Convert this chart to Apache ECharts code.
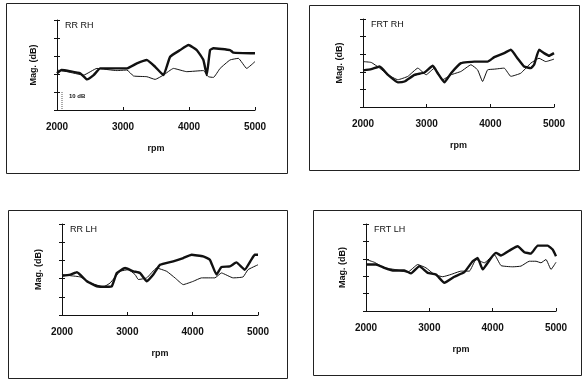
<!DOCTYPE html>
<html>
<head>
<meta charset="utf-8">
<script src="https://cdn.jsdelivr.net/npm/echarts@6/dist/echarts.min.js"></script>
<style>
  html, body { margin: 0; padding: 0; background: #fff; }
  #chart { width: 583px; height: 381px; }
</style>
</head>
<body>
<div id="chart"></div>
<script>
// [rpm, Mag dB], y axis 0..50 dB (10 dB per tick)
var rrRhThick = [[2000,20.4],[2067,22.2],[2353,20.4],[2454,17],[2555,19.4],[2655,23.1],[2857,23.1],[3059,23.1],[3210,25.9],[3361,27.8],[3487,24],[3613,19.4],[3714,29.6],[3866,33.3],[3992,36.1],[4118,33.3],[4218,27.8],[4269,19.4],[4319,33.3],[4370,34.3],[4622,33.3],[4672,31.9],[5000,31.5]]
var rrRhThin = [[2000,22.2],[2151,21.3],[2403,19.4],[2605,23.1],[2908,21.9],[3059,22.2],[3160,18.9],[3361,18.5],[3487,17],[3613,19.4],[3765,23.1],[3966,21.3],[4218,21.9],[4294,18.5],[4370,18.1],[4471,23.1],[4622,27.8],[4748,28.7],[4874,23.1],[5000,26.9]]

var frtRhThick = [[2000,20.8],[2130,21.5],[2261,23],[2391,18.3],[2548,14],[2652,14.5],[2809,18.3],[2965,19.6],[3096,23.4],[3174,19.2],[3278,14],[3383,19.2],[3539,24.9],[3748,25.8],[3957,25.8],[4061,28.3],[4217,30.6],[4322,32.5],[4426,27.7],[4530,23],[4635,22.1],[4687,24],[4765,32.5],[4843,30.6],[4922,29.1],[5000,30.6]]
var frtRhThin = [[2000,25.8],[2130,25.3],[2261,22.1],[2391,18.3],[2548,15.5],[2704,17.4],[2861,22.1],[2991,18.3],[3122,22.1],[3252,15.5],[3383,18.3],[3539,20.2],[3696,24],[3800,21.1],[3878,14.5],[3957,21.1],[4061,21.5],[4217,22.1],[4322,17.4],[4478,19.2],[4635,24.9],[4765,27.7],[4870,25.8],[5000,27.2]]

var rrLhThick = [[2000,21.6],[2127,22.2],[2229,23.5],[2381,18.5],[2534,15.8],[2686,15.5],[2763,15.8],[2839,23.1],[2966,25.8],[3093,24],[3195,23.1],[3297,18.5],[3398,22.2],[3500,27.6],[3703,29.5],[3856,31.3],[3983,33.1],[4161,32.2],[4263,30.4],[4364,22.2],[4441,26.4],[4568,26.7],[4669,28.9],[4797,24.9],[4898,30.4],[4949,33.1],[5000,33.1]]
var rrLhThin = [[2000,22.2],[2127,21.6],[2280,20.9],[2432,17.6],[2636,15.5],[2737,17.6],[2890,24],[3017,24.9],[3119,22.2],[3169,19.5],[3297,20.4],[3449,25.8],[3602,24],[3729,20.4],[3856,16.7],[4008,18.5],[4136,20.4],[4339,20.4],[4441,23.1],[4619,20.4],[4771,20.9],[4847,24.9],[5000,27.6]]

var frtLhThick = [[2000,26.7],[2158,26.7],[2289,24.8],[2421,23.3],[2605,23.3],[2711,21.6],[2842,25.8],[2974,21.9],[3105,21],[3237,16.2],[3395,19.7],[3553,22.3],[3684,28.6],[3763,30.5],[3842,23.9],[3974,30.5],[4053,33.4],[4132,31.9],[4289,35.3],[4395,37.2],[4500,33.8],[4605,33],[4711,37.6],[4868,37.6],[4947,35.3],[5000,31.5]]
var frtLhThin = [[2000,29.6],[2132,28],[2289,24.8],[2447,23.9],[2658,22.3],[2816,26.7],[2947,24.8],[3079,21],[3211,19.7],[3342,21],[3500,22.9],[3632,22.9],[3737,29.6],[3868,27.7],[4026,32.4],[4132,26.1],[4316,25.4],[4447,25.8],[4579,28.6],[4684,28.6],[4763,27.7],[4842,29.6],[4921,23.9],[5000,28]]

var panelTitles = ['RR RH', 'FRT RH', 'RR LH', 'FRT LH']

var thickData = [rrRhThick, frtRhThick, rrLhThick, frtLhThick]
var thinData = [rrRhThin, frtRhThin, rrLhThin, frtLhThin]

// layout of the four panels
var grids = [
  { left: 57, top: 20, width: 198, height: 90 },
  { left: 363, top: 19, width: 191, height: 88 },
  { left: 62, top: 224, width: 196, height: 91 },
  { left: 366, top: 224, width: 190, height: 87 }
]
var boxes = [
  [6, 3, 281, 170],
  [309, 5, 270, 165],
  [8, 210, 279, 168],
  [313, 210, 268, 165]
]

var font = 'Liberation Sans, Arial, sans-serif'
var ink = '#111'

var chart = echarts.init(document.getElementById('chart'), null, { renderer: 'canvas' })

var xAxes = []
var yAxes = []
var series = []
var graphics = []

grids.forEach(function (g, i) {
  xAxes.push({
    type: 'value', gridIndex: i, min: 2000, max: 5000, interval: 1000,
    name: 'rpm', nameLocation: 'middle', nameGap: 34,
    nameTextStyle: { color: ink, fontSize: 9, fontWeight: 'bold', fontFamily: font },
    axisLine: { lineStyle: { color: ink, width: 1.2 } },
    axisTick: { inside: true, length: 3, lineStyle: { color: ink } },
    axisLabel: {
      margin: 12, color: ink, fontSize: 10, fontWeight: 'bold', fontFamily: font,
      formatter: function (v) { return String(v) }
    },
    splitLine: { show: false }
  })
  // outer ticks + name
  yAxes.push({
    type: 'value', gridIndex: i, min: 0, max: 50, interval: 10,
    name: 'Mag. (dB)', nameLocation: 'middle', nameGap: 19,
    nameTextStyle: { color: ink, fontSize: 9, fontWeight: 'bold', fontFamily: font },
    axisLine: { show: true, lineStyle: { color: ink, width: 1 } },
    axisTick: { show: true, length: 3, lineStyle: { color: ink } },
    axisLabel: { show: false },
    splitLine: { show: false }
  })
  // inner ticks so the marks cross the axis
  yAxes.push({
    type: 'value', gridIndex: i, min: 0, max: 50, interval: 10, position: 'left',
    axisLine: { show: false },
    axisTick: { show: true, inside: true, length: 3, lineStyle: { color: ink } },
    axisLabel: { show: false },
    splitLine: { show: false }
  })
  series.push({
    type: 'line', xAxisIndex: i, yAxisIndex: i * 2, data: thinData[i],
    showSymbol: false, smooth: 0.12, lineStyle: { color: ink, width: 1 }, z: 2
  })
  series.push({
    type: 'line', xAxisIndex: i, yAxisIndex: i * 2, data: thickData[i],
    showSymbol: false, smooth: 0.12, lineStyle: { color: ink, width: 2.4 }, z: 3
  })
  var b = boxes[i]
  graphics.push({
    type: 'rect', shape: { x: b[0] + 0.5, y: b[1] + 0.5, width: b[2], height: b[3] },
    style: { fill: null, stroke: '#222', lineWidth: 1 }, silent: true
  })
  graphics.push({
    type: 'text', left: g.left + 8, top: g.top + 1,
    style: { text: panelTitles[i], fill: ink, font: '9px ' + font }
  })
})

// "10 dB" scale note in the first panel
graphics.push({
  type: 'line', shape: { x1: 62, y1: 92, x2: 62, y2: 110 },
  style: { stroke: '#555', lineWidth: 1, lineDash: [1, 1] }, silent: true
})
graphics.push({
  type: 'text', left: 69, top: 93,
  style: { text: '10 dB', fill: ink, font: 'bold 6px ' + font }
})

chart.setOption({
  animation: false,
  backgroundColor: '#fff',
  grid: grids,
  xAxis: xAxes,
  yAxis: yAxes,
  series: series,
  graphic: graphics
})
</script>
</body>
</html>
